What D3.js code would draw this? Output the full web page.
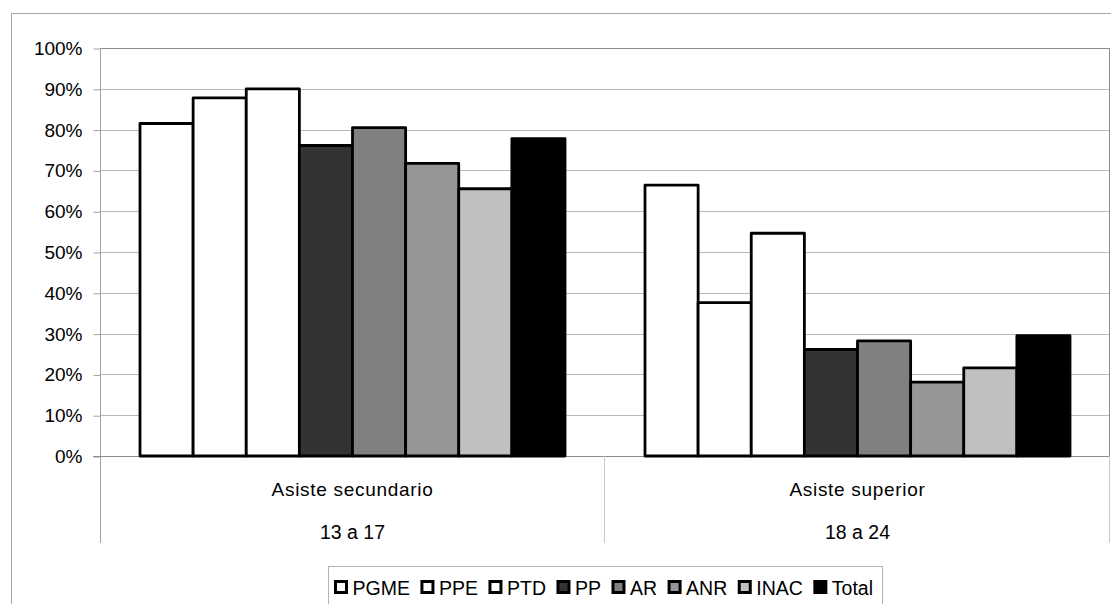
<!DOCTYPE html>
<html>
<head>
<meta charset="utf-8">
<script src="https://cdn.jsdelivr.net/npm/d3@7"></script>
<style>
  body { margin: 0; background: #fff; }
  svg { display: block; font-family: "Liberation Sans", Arial, sans-serif; }
</style>
</head>
<body>
<svg id="chart" width="1111" height="604"></svg>
<script>
// categorias (dos lineas por etiqueta)
var categories = ["Asiste secundario", "Asiste superior"];
var ageRanges = ["13 a 17", "18 a 24"];
var series = ["PGME", "PPE", "PTD", "PP", "AR", "ANR", "INAC", "Total"];
var colors = ["#ffffff", "#ffffff", "#ffffff", "#333333", "#808080", "#969696", "#c0c0c0", "#000000"];
// valores por serie: [secundario, superior]
var valSecundario = [0.815, 0.878, 0.900, 0.761, 0.805, 0.717, 0.655, 0.778];
var valSuperior = [0.664, 0.376, 0.546, 0.261, 0.282, 0.181, 0.216, 0.295];
var yTicks = [0, 0.1, 0.2, 0.3, 0.4, 0.5, 0.6, 0.7, 0.8, 0.9, 1];

(function() {

    var svg = d3.select("#chart");

    var left = 100, right = 1110, plotTop = 48, bottom = 456, catBottom = 543;

    // marco exterior
    svg.append("rect")
        .attr("x", 11.5).attr("y", 13.5)
        .attr("width", 1110).attr("height", 620)
        .attr("fill", "none").attr("stroke", "#a6a6a6");

    var y = d3.scaleLinear().domain([0, 1]).range([bottom, plotTop]);

    var x0 = d3.scaleBand().domain(categories).range([left, right]);

    var gap = 40;
    var x1 = d3.scaleBand().domain(series).range([gap, x0.bandwidth() - gap]);

    // grilla
    svg.append("g").selectAll("line")
        .data(yTicks.slice(1)).enter()
        .append("line")
        .attr("x1", left).attr("x2", right)
        .attr("y1", function(d) { return Math.round(y(d)) + 0.5; })
        .attr("y2", function(d) { return Math.round(y(d)) + 0.5; })
        .attr("stroke", "#b8b8b8");

    // borde del area de trazado
    svg.append("path")
        .attr("d", "M" + left + "," + (plotTop + 0.5) + "H" + (right - 0.5) + "V" + bottom)
        .attr("fill", "none").attr("stroke", "#8c8c8c");

    // eje y
    var yAxis = d3.axisLeft(y).tickValues(yTicks).tickSize(7).tickPadding(11)
        .tickFormat(d3.format(".0%"));
    var gy = svg.append("g")
        .attr("transform", "translate(" + (left + 0.5) + ",0.5)")
        .call(yAxis);
    gy.select(".domain").remove();
    gy.selectAll(".tick line").attr("stroke", "#a0a0a0");
    gy.selectAll(".tick text")
        .attr("font-size", 19).attr("fill", "#000")
        .style("font-family", "Liberation Sans, Arial, sans-serif");

    // lineas del eje de categorias
    svg.append("line")
        .attr("x1", left + 0.5).attr("x2", left + 0.5)
        .attr("y1", plotTop).attr("y2", catBottom)
        .attr("stroke", "#a0a0a0");
    svg.append("line")
        .attr("x1", left - 7).attr("x2", right)
        .attr("y1", bottom + 0.5).attr("y2", bottom + 0.5)
        .attr("stroke", "#8c8c8c");
    svg.append("g").selectAll("line")
        .data(categories).enter()
        .append("line")
        .attr("x1", function(d) { return x0(d) + x0.bandwidth() - 0.5; })
        .attr("x2", function(d) { return x0(d) + x0.bandwidth() - 0.5; })
        .attr("y1", bottom).attr("y2", catBottom)
        .attr("stroke", "#c8c8c8");

    // barras
    var rows = categories.map(function(c, i) {
        return series.map(function(s, j) {
            return { cat: c, name: s, value: (i === 0 ? valSecundario : valSuperior)[j], color: colors[j] };
        });
    });

    svg.append("g").selectAll("g")
        .data(rows).enter()
        .append("g")
        .attr("transform", function(d) { return "translate(" + x0(d[0].cat) + ",0)"; })
        .selectAll("rect")
        .data(function(d) { return d; }).enter()
        .append("rect")
        .attr("x", function(d) { return x1(d.name); })
        .attr("y", function(d) { return y(d.value); })
        .attr("width", x1.bandwidth())
        .attr("height", function(d) { return bottom - y(d.value); })
        .attr("fill", function(d) { return d.color; })
        .attr("stroke", "#000")
        .attr("stroke-width", 2.8)
        .attr("stroke-linejoin", "round");

    // etiquetas de categorias
    var catLabels = svg.append("g").selectAll("g")
        .data(categories).enter()
        .append("g")
        .attr("transform", function(d) { return "translate(" + (x0(d) + x0.bandwidth() / 2) + ",0)"; });
    catLabels.append("text")
        .attr("y", 496).attr("text-anchor", "middle")
        .attr("font-size", 19)
        .attr("letter-spacing", 0.7)
        .text(function(d) { return d; });
    catLabels.append("text")
        .attr("y", 539).attr("text-anchor", "middle")
        .attr("font-size", 19.5)
        .text(function(d, i) { return ageRanges[i]; });

    // leyenda
    var legend = svg.append("g");
    legend.append("rect")
        .attr("x", 328.5).attr("y", 566.5)
        .attr("width", 554).attr("height", 60)
        .attr("fill", "#fff").attr("stroke", "#b3b3b3");

    var lx = 335.5;
    series.forEach(function(s, i) {
        var item = legend.append("g").attr("transform", "translate(" + lx + ",0)");
        item.append("rect")
            .attr("x", 0).attr("y", 581.5)
            .attr("width", 11).attr("height", 11)
            .attr("fill", colors[i]).attr("stroke", "#000").attr("stroke-width", 3);
        var t = item.append("text")
            .attr("x", 17).attr("y", 595)
            .attr("font-size", 19.5)
            .text(s);
        lx += 17 + t.node().getComputedTextLength() + 12;
    });

})();
</script>
</body>
</html>
